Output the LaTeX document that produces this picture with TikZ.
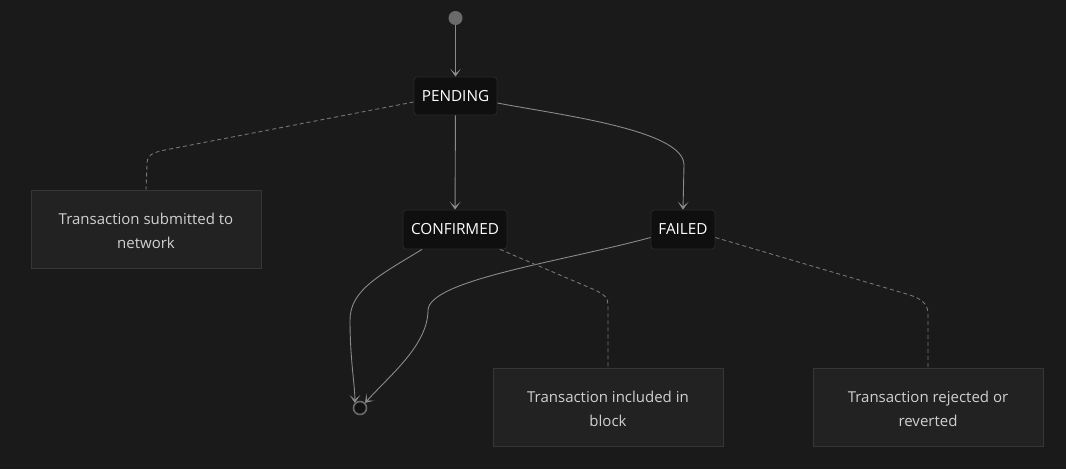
\documentclass[tikz,border=0pt]{standalone}
\usepackage{fontspec}
\setmainfont{Open Sans}
\usetikzlibrary{arrows.meta}
\definecolor{bg}{HTML}{1A1A1A}
\definecolor{stfill}{HTML}{0F0F0F}
\definecolor{stline}{HTML}{2A2A2A}
\definecolor{notefill}{HTML}{222222}
\definecolor{noteline}{HTML}{363636}
\definecolor{edge}{HTML}{8A8A8A}
\definecolor{notetext}{HTML}{D0D0D0}
\definecolor{dot}{HTML}{6A6A6A}
\begin{document}
\begin{tikzpicture}[x=1pt,y=-1pt,
  statebox/.style={draw=stline,fill=stfill,rounded corners=3pt,line width=0.8pt,text=white,font=\fontsize{15.3}{18}\selectfont,inner sep=0pt},
  notebox/.style={draw=noteline,fill=notefill,line width=1pt,text=notetext,font=\fontsize{15}{24}\selectfont,align=center,inner sep=0pt,minimum width=230pt,minimum height=78pt},
  notetxt/.style={text=notetext,font=\fontsize{15}{24}\selectfont,align=center,inner sep=0pt},
  trans/.style={draw=edge,line width=0.9pt,-{Stealth[length=8pt,width=11pt,inset=5pt,fill=white!85!black]}},
  notelink/.style={draw=edge!85!black,line width=0.9pt,dash pattern=on 4pt off 3pt}]
\fill[bg] (0,0) rectangle (1066,469);
\useasboundingbox (0,0) rectangle (1066,469);
% states
\node[statebox,minimum width=83pt,minimum height=38pt] (pending) at (455.5,96) {PENDING};
\node[statebox,minimum width=104pt,minimum height=39pt] (confirmed) at (455,229.5) {CONFIRMED};
\node[statebox,minimum width=64pt,minimum height=39pt] (failed) at (683,229.5) {FAILED};
% start / end
\node[circle,fill=dot,minimum size=14pt,inner sep=0pt] (start) at (455.5,18) {};
\node[circle,draw=dot,fill=bg!70!black,line width=1.6pt,minimum size=13pt,inner sep=0pt] (end) at (360,408) {};
% notes
\node[notebox] (n1) at (146,229) {};
\node[notetxt] at ([yshift=-1.5pt]n1.center) {Transaction submitted to\\network};
\node[notebox] (n2) at (608,407) {};
\node[notetxt] at ([yshift=-1.5pt]n2.center) {Transaction included in\\block};
\node[notebox] (n3) at (928,407) {};
\node[notetxt] at ([yshift=-1.5pt]n3.center) {Transaction rejected or\\reverted};
% transitions
\draw[trans] (start) -- (pending);
\draw[trans] (pending) -- (confirmed);
\draw[trans] (pending.east) ++(0,7) coordinate (pf) (pf) .. controls (560,115) and (684,130) .. (684,165) -- (failed.north);
\draw[trans] (confirmed.south) ++(-33,0) coordinate (ce) (ce) .. controls (380,275) and (350,290) .. (350,320) .. controls (350,360) and (355,385) .. (end.north west);
\draw[trans] (failed.west) ++(0,8) coordinate (fe) (fe) .. controls (560,262) and (430,280) .. (428,310) .. controls (428,345) and (390,375) .. (end.north east);
% note links
\draw[notelink] (pending.west) ++(0,6) coordinate (pn) (pn) -- (165,150) .. controls (150,153) and (147,156) .. (147,165) -- (n1.north);
\draw[notelink] (confirmed.south) ++(45,0) coordinate (cn) (cn) -- (595,290) .. controls (605,295) and (608,298) .. (608,305) -- (n2.north);
\draw[notelink] (failed.east) ++(0,8) coordinate (fn) (fn) -- (910,295) .. controls (924,300) and (928,305) .. (928,315) -- (n3.north);
\end{tikzpicture}
\end{document}
